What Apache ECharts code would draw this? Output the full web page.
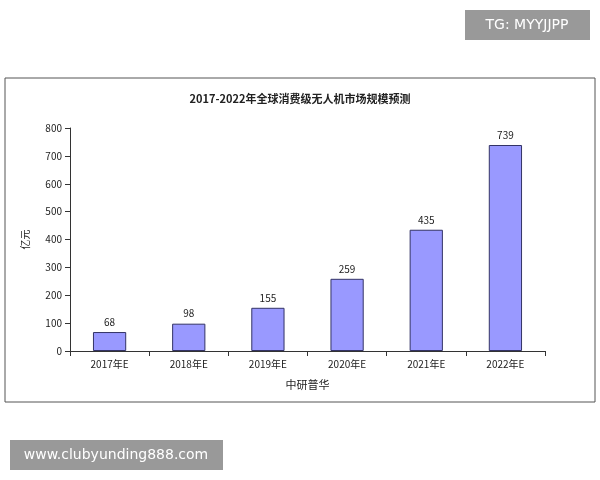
<!DOCTYPE html>
<html><head><meta charset="utf-8">
<script src="https://cdn.jsdelivr.net/npm/echarts@6/dist/echarts.min.js"></script>
<style>html,body{margin:0;padding:0;background:#fff}#c{width:600px;height:480px}</style>
</head><body><div id="c"></div>
<script>
var categories = ['2017年E','2018年E','2019年E','2020年E','2021年E','2022年E'];
var values = [68, 98, 155, 259, 435, 739];
var yTicks = [0,100,200,300,400,500,600,700,800];
var chart = echarts.init(document.getElementById('c'));
var f = '"Noto Sans CJK SC", "DejaVu Sans", sans-serif';
chart.setOption({
  animation:false,
  backgroundColor:'#fff',
  title:{text:'2017-2022年全球消费级无人机市场规模预测',left:295,top:88,textAlign:'center',
    textStyle:{fontSize:11,fontWeight:'bold',color:'#222',fontFamily:f}},
  grid:{left:70,right:55,top:128,bottom:129},
  xAxis:{type:'category',data:categories,name:'中研普华',nameLocation:'middle',nameGap:28,
    nameTextStyle:{fontSize:11,color:'#222',fontFamily:f},
    axisLine:{lineStyle:{color:'#333'}},axisTick:{show:true,lineStyle:{color:'#333'}},
    axisLabel:{fontSize:10,color:'#222',fontFamily:f}},
  yAxis:{type:'value',min:0,max:800,interval:100,name:'亿元',nameLocation:'middle',nameGap:40,
    nameTextStyle:{fontSize:10,color:'#222',fontFamily:f},
    axisLine:{show:true,lineStyle:{color:'#333'}},axisTick:{show:true,lineStyle:{color:'#333'}},
    splitLine:{show:false},
    axisLabel:{fontSize:10,color:'#222',fontFamily:f,formatter:function(v){return yTicks.indexOf(v)>=0?String(v):'';}}},
  series:[{type:'bar',data:values,barWidth:'42%',
    itemStyle:{color:'#9999FF',borderColor:'#333366',borderWidth:1},
    label:{show:true,position:'top',fontSize:10,color:'#222',fontFamily:f}}],
  graphic:[
    {type:'rect',shape:{x:5,y:78,width:590,height:324},style:{fill:'none',stroke:'#555',lineWidth:1},z:-1},
    {type:'rect',shape:{x:465,y:10,width:125,height:30},style:{fill:'#999'}},
    {type:'text',x:527,y:25,style:{text:'TG: MYYJJPP',fill:'#fff',fontSize:14,fontFamily:'"DejaVu Sans", sans-serif',align:'center',verticalAlign:'middle'}},
    {type:'rect',shape:{x:10,y:440,width:213,height:30},style:{fill:'#999'}},
    {type:'text',x:116,y:455,style:{text:'www.clubyunding888.com',fill:'#fff',fontSize:14,fontFamily:'"DejaVu Sans", sans-serif',align:'center',verticalAlign:'middle'}}
  ]
});
</script></body></html>
